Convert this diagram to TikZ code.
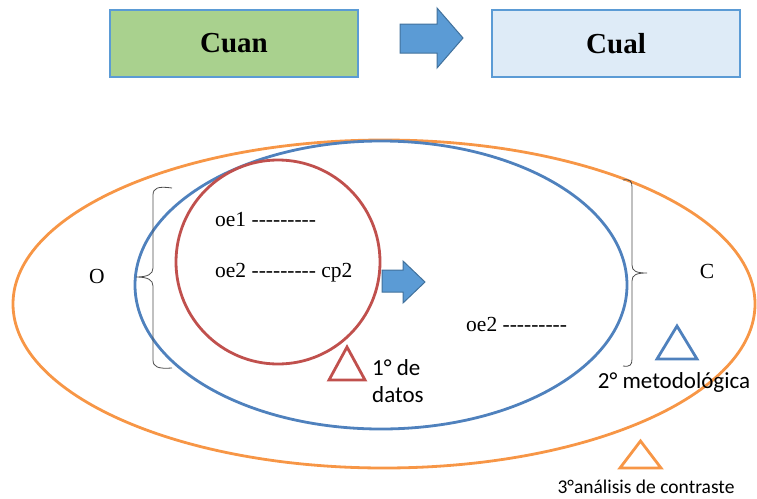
\documentclass[tikz,border=0pt]{standalone}
\usepackage{fontspec}
\setmainfont{Liberation Serif}
\newfontfamily\calib{Carlito}

\definecolor{cuangreen}{RGB}{169,209,142}
\definecolor{cualblue}{RGB}{222,235,247}
\definecolor{boxedge}{RGB}{91,155,213}
\definecolor{arrowfill}{RGB}{91,155,213}
\definecolor{arrowedge}{RGB}{65,113,156}
\definecolor{ringorange}{RGB}{247,150,70}
\definecolor{ringblue}{RGB}{79,129,189}
\definecolor{ringred}{RGB}{192,80,77}

\newcommand\hy{\mbox{-}}
\newcommand\dashrow{\hy\hy\hy\hy\hy\hy\hy\hy\hy}

\tikzset{%
  title box/.style={
    draw=boxedge,
    line width=1.2pt
  },
  ring/.style={
    line width=2.8pt
  },
  level mark/.style={
    line width=2.8pt,
    line join=miter
  },
  flow arrow/.style={
    fill=arrowfill,
    draw=arrowedge,
    line width=1pt,
    line join=miter
  },
  curly/.style={
    draw=black!70,
    line width=0.8pt
  },
  label/.style={
    font=\fontsize{21.5}{23}\selectfont,
    inner sep=0pt
  },
  step note/.style={
    font=\calib\fontsize{23}{27}\selectfont,
    inner sep=0pt
  },
}

\begin{document}
\begin{tikzpicture}[x=1pt,y=-1pt]
\useasboundingbox (0,0) rectangle (757,498);
% cuan -> cual
\draw[title box, fill=cuangreen] (110,10) rectangle (358,77) node[pos=.5] (cuan) {\fontsize{29}{31}\selectfont\bfseries Cuan};
\draw[title box, fill=cualblue] (492,10) rectangle (740,77) node[pos=.5] (cual) {\fontsize{29}{31}\selectfont\bfseries Cual};
\draw[flow arrow] (400,24) -- (437,24) -- (437,8) -- (463,38) -- (437,68) -- (437,53) -- (400,53) -- cycle;

% rings
\draw[ring, ringorange] (384,304) ellipse [x radius=371, y radius=164];
\draw[ring, ringblue] (381,285) ellipse [x radius=246, y radius=144];
\draw[ring, ringred] (278,262) circle [radius=102];
\draw[flow arrow] (382,270) -- (403,270) -- (403,261) -- (425,282) -- (403,303) -- (403,292) -- (382,292) -- cycle;

% braces
\draw[curly] (172,188) .. controls (158,186) and (153,188) .. (153,195) -- (153,268)
  .. controls (153,274) and (148,277) .. (136,277) .. controls (148,277) and (153,280) .. (153,286)
  -- (153,360) .. controls (153,367) and (158,369) .. (172,368);
\draw[curly] (623,180) .. controls (630,179) and (632,181) .. (632,187) -- (632,265)
  .. controls (632,271) and (636,273) .. (647,273) .. controls (636,273) and (632,275) .. (632,281)
  -- (632,359) .. controls (632,365) and (630,367) .. (623,366);

% texts
\node[label] (o) at (97,276) {O};
\node[label] (c) at (707,271) {C};
\node[label, anchor=west] (oe1) at (215,220) {oe1 \dashrow};
\node[label, anchor=west] (oe2 in) at (215,273) {oe2 \dashrow\ cp2};
\node[label, anchor=west] (oe2 out) at (466,324) {oe2 \dashrow};

% levels
\draw[level mark, ringred] (329,380) -- (347,347) -- (365,380) -- cycle;
\draw[level mark, ringblue] (657,359) -- (677,326) -- (697,359) -- cycle;
\draw[level mark, ringorange] (620,468) -- (640.5,441) -- (661,468) -- cycle;
\node[step note, anchor=west, align=left] (first) at (372,381) {1° de\\datos};
\node[step note] (second) at (674,382) {2° metodológica};
\node[step note, font=\calib\fontsize{19.5}{22}\selectfont] (third) at (646,487) {3°análisis de contraste};
\end{tikzpicture}
\end{document}
